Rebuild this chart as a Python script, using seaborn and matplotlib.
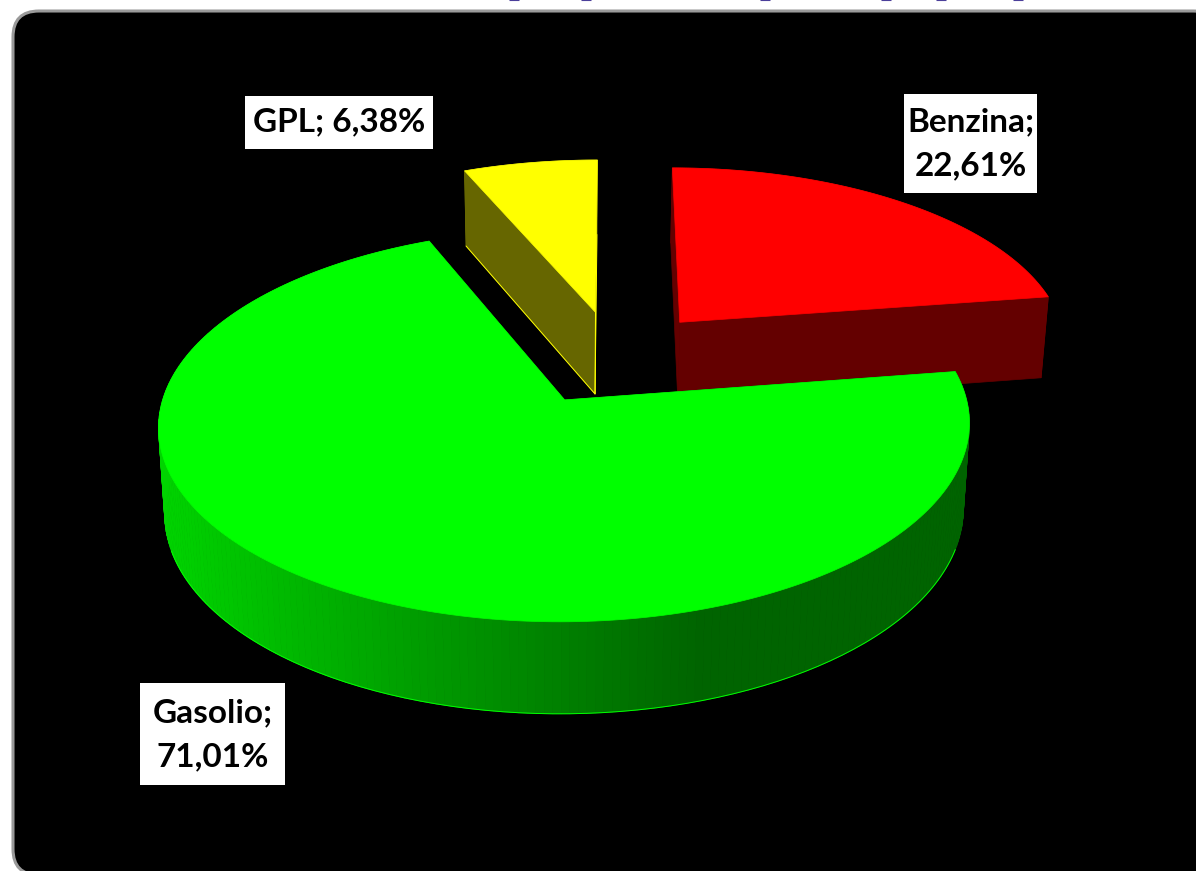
import numpy as np
import seaborn as sns
import matplotlib.pyplot as plt
from matplotlib.patches import FancyBboxPatch, Polygon, Rectangle

# data
slice_names = ["Benzina", "Gasolio", "GPL"]
slice_values = [22.61, 71.01, 6.38]
top_colors = ["#ff0000", "#00ff00", "#ffff00"]
wall_colors = [
    ["#640000", "#640000"],
    ["#00d400", "#009a00", "#006400", "#006400"],
    ["#666600", "#666600"],
]
label_breaks = [";\n", ";\n", "; "]

# projection of the tilted pie, in picture pixels
APEX_X, APEX_Y = 565, 400
SCALE_X, SCALE_Y = 402, 193.1
TILT = 0.13
SHEAR = 5
DEPTH = 85
DEPTH_SLOPE = 7
BOTTOM_SHRINK = 0.985
EXPLODE = 0.26
CENTER_U, CENTER_V = 0.126, 0.2275

# label boxes: left, top, right, bottom, text centre y
label_boxes = [
    (904, 94, 1037, 193, 144),
    (140, 683, 285, 785, 735),
    (245, 96, 433, 149, 122),
]


def project(u, v, bottom=False):
    w = 1 + TILT * v
    x = SCALE_X * u / w + SHEAR * v
    y = -SCALE_Y * v / w
    if bottom:
        return APEX_X + BOTTOM_SHRINK * x, APEX_Y + y + DEPTH - DEPTH_SLOPE * v
    return APEX_X + x, APEX_Y + y


def draw_slice(ax, start, end, top_color, wall, rim_line, face_line):
    mid = np.radians((start + end) / 2)
    off_u = CENTER_U + EXPLODE * np.sin(mid)
    off_v = CENTER_V + EXPLODE * np.cos(mid)

    angles = np.radians(np.linspace(start, end, 240))
    u = off_u + np.sin(angles)
    v = off_v + np.cos(angles)
    top_x, top_y = project(u, v)
    low_x, low_y = project(u, v, bottom=True)
    ax_x, ax_y = project(off_u, off_v)
    bx_x, bx_y = project(off_u, off_v, bottom=True)

    # outer wall, shaded by where it sits across the picture
    shades = sns.blend_palette(wall, n_colors=256)
    for i in range(len(angles) - 1):
        pos = ((top_x[i] + top_x[i + 1]) / 2 - 158) / (970 - 158)
        shade = shades[int(np.clip(pos, 0, 1) * 255)]
        quad = [(top_x[i], top_y[i]), (top_x[i + 1], top_y[i + 1]),
                (low_x[i + 1], low_y[i + 1]), (low_x[i], low_y[i])]
        ax.add_patch(Polygon(quad, facecolor=shade, edgecolor=shade, lw=0.6))
    if rim_line:
        # only the lower stretch of the rim has the thin bright edge
        front = v < -0.3
        ax.plot(low_x[front], low_y[front], color=top_color, lw=0.7)

    # the two cut faces
    for k in (0, -1):
        face = [(ax_x, ax_y), (top_x[k], top_y[k]), (low_x[k], low_y[k]), (bx_x, bx_y)]
        ax.add_patch(Polygon(face, facecolor=wall[-1], edgecolor=wall[-1], lw=0.5))
    if face_line:
        ax.plot([low_x[0], bx_x, low_x[-1]], [low_y[0], bx_y, low_y[-1]], color=top_color, lw=0.7)
        ax.plot([ax_x, bx_x], [ax_y, bx_y], color=top_color, lw=0.7)

    outline = np.column_stack([np.r_[ax_x, top_x], np.r_[ax_y, top_y]])
    ax.add_patch(Polygon(outline, facecolor=top_color, edgecolor=top_color, lw=0.5))


sns.set_theme(style="white")
plt.rcParams["font.family"] = ["Lato", "DejaVu Sans"]

fig = plt.figure(figsize=(11.96, 8.71), dpi=100, facecolor="white")
ax = fig.add_axes([0, 0, 1, 1])
ax.set_xlim(0, 1196)
ax.set_ylim(871, 0)
ax.axis("off")

# black chart area, its right and bottom edges fall just off the picture
ax.add_patch(FancyBboxPatch((13, 11), 1206, 864, boxstyle="round,pad=0,rounding_size=26",
                            facecolor="black", edgecolor="#9a9a9a", lw=2.2, zorder=0))

# bits of the cut off title above the frame
for x in [514, 586, 765, 886, 941, 1018]:
    ax.plot([x - 5, x + 5], [0.5, 0.5], color="#4b3f9a", lw=0.8, solid_capstyle="butt")

edges = np.r_[0, np.cumsum(slice_values)] / np.sum(slice_values) * 360
draw_slice(ax, edges[2], edges[3], top_colors[2], wall_colors[2], False, True)
draw_slice(ax, edges[0], edges[1], top_colors[0], wall_colors[0], False, False)
draw_slice(ax, edges[1], edges[2], top_colors[1], wall_colors[1], True, False)

for name, value, sep, box in zip(slice_names, slice_values, label_breaks, label_boxes):
    left, top, right, bottom, mid_y = box
    ax.add_patch(Rectangle((left, top), right - left, bottom - top, facecolor="white",
                           edgecolor="none", zorder=5))
    text = f"{name}{sep}{value:.2f}%".replace(".", ",")
    ax.text((left + right) / 2, mid_y, text, ha="center", va="center", fontsize=24,
            fontweight="bold", color="black", linespacing=1.65, zorder=6)

fig.savefig("out.png", dpi=100)
